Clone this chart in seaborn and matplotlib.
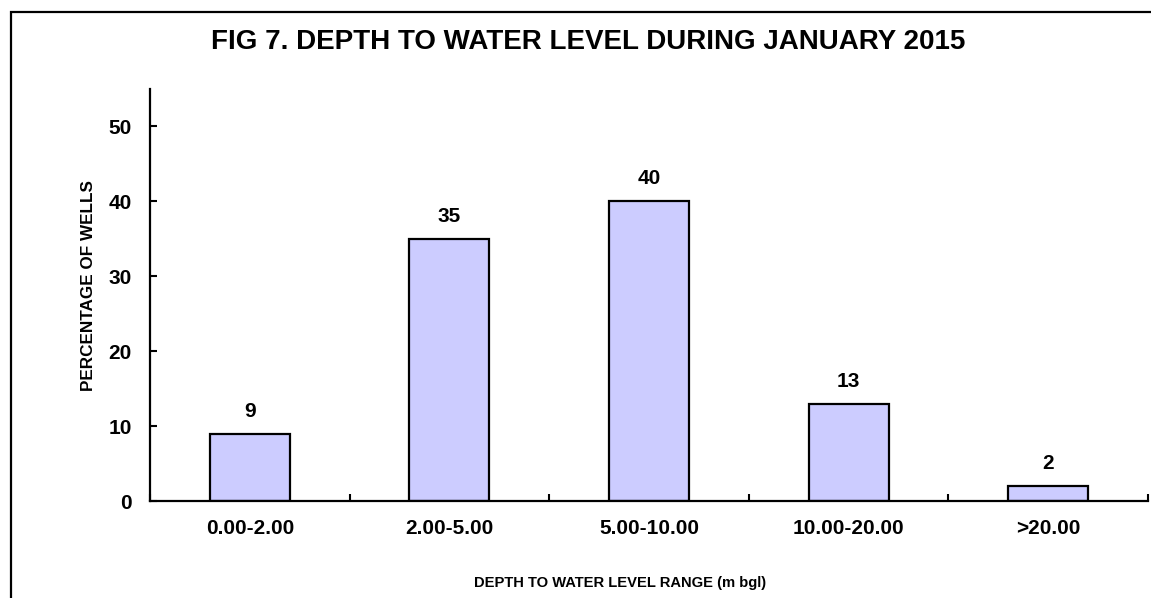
import matplotlib
matplotlib.use("Agg")
import matplotlib.pyplot as plt
import matplotlib.patches as mpatches
from matplotlib.ticker import FixedLocator
import pandas as pd
import seaborn as sns

ranges = ["0.00-2.00", "2.00-5.00", "5.00-10.00", "10.00-20.00", ">20.00"]
pct_wells = [9, 35, 40, 13, 2]
y_ticks = [0, 10, 20, 30, 40, 50]

sns.set_style("white")
plt.rcParams['font.family'] = ['Liberation Sans', 'DejaVu Sans']
plt.rcParams['font.weight'] = 'bold'
plt.rcParams['text.color'] = 'black'
plt.rcParams['xtick.color'] = 'black'
plt.rcParams['ytick.color'] = 'black'

df = pd.DataFrame({"Range": ranges, "Pct": pct_wells})

fig = plt.figure(figsize=(11.51, 5.98), dpi=100)
ax = fig.add_axes([0.1303, 0.1622, 0.8671, 0.6898])

sns.barplot(data=df, x="Range", y="Pct", ax=ax, color="#CCCCFF",
            edgecolor="black", linewidth=1.6, width=0.4, saturation=1)

ax.set_xlim(-0.5, len(ranges) - 0.5)
ax.set_ylim(0, 55)
ax.set_yticks(y_ticks)
ax.set_yticklabels([str(t) for t in y_ticks], fontsize=15, fontweight='bold')
ax.set_xticks(range(len(ranges)))
ax.set_xticklabels(ranges, fontsize=15, fontweight='bold')
ax.xaxis.set_minor_locator(FixedLocator([i + 0.5 for i in range(-1, len(ranges))]))
ax.tick_params(axis='x', which='major', length=0, pad=13)
ax.tick_params(axis='x', which='minor', direction='in', length=5, width=1.5, bottom=True)
ax.tick_params(axis='y', direction='in', length=5, width=1.5, left=True, pad=13)

for s in ["top", "right"]:
    ax.spines[s].set_visible(False)
for s in ["left", "bottom"]:
    ax.spines[s].set_linewidth(1.6)
    ax.spines[s].set_color("black")

ax.set_xlabel("")
ax.set_ylabel("")

for i, v in enumerate(pct_wells):
    ax.annotate(str(v), (i, v), xytext=(0, 12), textcoords="offset points",
                ha="center", va="baseline", fontsize=15, fontweight="bold")

fig.text(0.511, 0.93, "FIG 7. DEPTH TO WATER LEVEL DURING JANUARY 2015",
         ha="center", va="center", fontsize=20, fontweight="bold")
fig.text(0.0765, 0.5226, "PERCENTAGE OF WELLS", rotation=90,
         ha="center", va="center", fontsize=12.3, fontweight="bold")
fig.text(0.539, 0.025, "DEPTH TO WATER LEVEL RANGE (m bgl)",
         ha="center", va="center", fontsize=10.6, fontweight="bold")

# outer frame, cut off at right and bottom like the original
fig.patches.append(mpatches.Rectangle((11 / 1151, -0.05), 1.1, 1 - 12 / 598 + 0.05,
                                      transform=fig.transFigure, fill=False,
                                      edgecolor="black", linewidth=1.6))

fig.savefig("out.png", dpi=100)
